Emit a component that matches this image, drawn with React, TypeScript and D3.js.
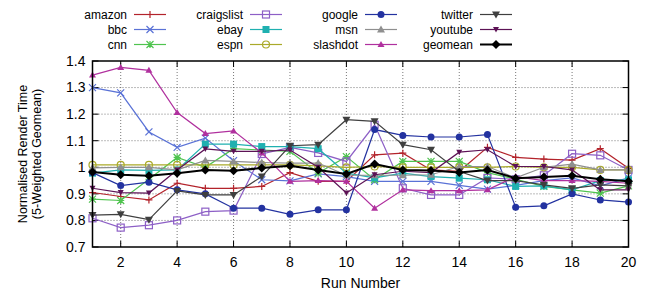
import React from 'react';
import * as d3 from 'd3';

const runs: number[] = d3.range(1, 21);

const amazon = [0.905, 0.89, 0.877, 0.94, 0.921, 0.921, 0.928, 0.98, 0.947, 0.947, 1.047, 1.053, 0.99, 0.985, 1.075, 1.037, 1.031, 1.027, 1.07, 0.996];
const bbc = [1.3, 1.28, 1.133, 1.075, 1.11, 1.025, 0.953, 0.949, 0.975, 0.965, 0.947, 0.947, 0.947, 0.932, 0.918, 0.932, 0.95, 0.96, 0.93, 0.96];
const cnn = [0.88, 0.875, 0.955, 1.037, 1.0, 1.07, 1.065, 1.06, 0.978, 1.04, 0.953, 1.022, 1.022, 1.022, 0.98, 0.955, 0.928, 0.915, 0.903, 0.93];
const craigslist = [0.808, 0.773, 0.782, 0.8, 0.833, 0.837, 1.05, 1.075, 1.054, 1.022, 1.16, 0.921, 0.896, 0.896, 0.96, 0.955, 0.97, 1.051, 1.045, 0.99];
const ebay = [0.978, 0.99, 0.988, 0.99, 1.087, 1.087, 1.078, 1.078, 1.07, 0.978, 0.96, 0.978, 0.965, 0.959, 0.953, 0.928, 0.93, 0.915, 0.95, 0.953];
const espn = [1.009, 1.009, 1.009, 1.009, 1.009, 1.009, 1.009, 1.009, 1.005, 1.0, 1.003, 1.0, 1.0, 1.0, 1.0, 1.003, 1.0, 1.0, 0.99, 0.99];
const google = [0.98, 0.931, 0.944, 0.915, 0.9, 0.846, 0.846, 0.823, 0.84, 0.84, 1.142, 1.12, 1.114, 1.114, 1.123, 0.85, 0.855, 0.9, 0.877, 0.869];
const msn = [0.998, 1.0, 1.0, 0.99, 1.026, 1.022, 1.018, 1.016, 1.016, 0.97, 0.97, 0.97, 0.972, 1.003, 1.003, 0.96, 1.0, 1.012, 0.99, 0.99];
const slashdot = [1.347, 1.376, 1.365, 1.206, 1.127, 1.137, 1.054, 0.947, 0.95, 0.947, 0.846, 0.915, 0.912, 0.912, 0.915, 0.965, 0.95, 0.95, 0.947, 0.94];
const twitter = [0.82, 0.823, 0.803, 0.911, 0.896, 0.896, 0.965, 1.081, 1.085, 1.179, 1.173, 1.085, 1.066, 0.984, 0.95, 0.95, 0.934, 0.921, 0.934, 0.93];
const youtube = [0.921, 0.905, 0.903, 0.99, 1.069, 1.06, 1.06, 1.065, 1.0, 0.903, 0.972, 0.985, 0.98, 1.057, 1.066, 1.003, 1.003, 0.99, 0.915, 0.915];
const geomean = [0.982, 0.972, 0.968, 0.978, 0.99, 0.987, 0.997, 1.006, 0.99, 0.975, 1.012, 0.99, 0.988, 0.98, 0.99, 0.959, 0.963, 0.968, 0.955, 0.947];

const yTicks = [0.7, 0.8, 0.9, 1.0, 1.1, 1.2, 1.3, 1.4];
const xTicks = [2, 4, 6, 8, 10, 12, 14, 16, 18, 20];

type Shape = 'plus' | 'cross' | 'star' | 'square' | 'fsquare' | 'circle' | 'fcircle' | 'tri' | 'ftri' | 'tridown' | 'smalltridown' | 'diamond';

interface Series {
  name: string;
  values: number[];
  color: string;
  shape: Shape;
  width?: number;
}

const series: Series[] = [
  { name: 'amazon', values: amazon, color: '#b3232b', shape: 'plus' },
  { name: 'bbc', values: bbc, color: '#5a72d6', shape: 'cross' },
  { name: 'cnn', values: cnn, color: '#4fc44f', shape: 'star' },
  { name: 'craigslist', values: craigslist, color: '#8d5fc6', shape: 'square' },
  { name: 'ebay', values: ebay, color: '#1fb0b0', shape: 'fsquare' },
  { name: 'espn', values: espn, color: '#aaaa2a', shape: 'circle' },
  { name: 'google', values: google, color: '#2332a0', shape: 'fcircle' },
  { name: 'msn', values: msn, color: '#8f8f8f', shape: 'tri' },
  { name: 'slashdot', values: slashdot, color: '#b0309e', shape: 'ftri' },
  { name: 'twitter', values: twitter, color: '#3f3f3f', shape: 'tridown' },
  { name: 'youtube', values: youtube, color: '#5c1255', shape: 'smalltridown' },
  { name: 'geomean', values: geomean, color: '#000000', shape: 'diamond', width: 2 },
];

const W = 653;
const H = 292;
const margin = { left: 92.5, right: 24.5, top: 61, bottom: 45 };

const Marker: React.FC<{ x: number; y: number; shape: Shape; color: string }> = ({ x, y, shape, color }) => {
  const s = 3.5;
  switch (shape) {
    case 'plus':
      return <path d={`M${x - s},${y}H${x + s}M${x},${y - s}V${y + s}`} stroke={color} strokeWidth={1.2} />;
    case 'cross':
      return <path d={`M${x - s},${y - s}L${x + s},${y + s}M${x - s},${y + s}L${x + s},${y - s}`} stroke={color} strokeWidth={1.2} />;
    case 'star':
      return (
        <path
          d={`M${x - s},${y}H${x + s}M${x},${y - s}V${y + s}M${x - s},${y - s}L${x + s},${y + s}M${x - s},${y + s}L${x + s},${y - s}`}
          stroke={color}
          strokeWidth={1.2}
        />
      );
    case 'square':
      return <rect x={x - s} y={y - s} width={2 * s} height={2 * s} fill="none" stroke={color} strokeWidth={1.2} />;
    case 'fsquare':
      return <rect x={x - s} y={y - s} width={2 * s} height={2 * s} fill={color} />;
    case 'circle':
      return <circle cx={x} cy={y} r={s} fill="none" stroke={color} strokeWidth={1.2} />;
    case 'fcircle':
      return <circle cx={x} cy={y} r={s} fill={color} />;
    case 'tri':
      return <path d={`M${x},${y - 4}L${x + 4},${y + 3}L${x - 4},${y + 3}Z`} fill={color} />;
    case 'ftri':
      return <path d={`M${x},${y - 3.5}L${x + 3.5},${y + 2.5}L${x - 3.5},${y + 2.5}Z`} fill={color} />;
    case 'tridown':
      return <path d={`M${x},${y + 4}L${x + 4},${y - 3}L${x - 4},${y - 3}Z`} fill={color} />;
    case 'smalltridown':
      return <path d={`M${x},${y + 3}L${x + 3},${y - 2.5}L${x - 3},${y - 2.5}Z`} fill={color} />;
    case 'diamond':
      return <path d={`M${x},${y - 4.5}L${x + 4.5},${y}L${x},${y + 4.5}L${x - 4.5},${y}Z`} fill={color} />;
  }
  return null;
};

const App: React.FC = () => {
  const x = d3.scaleLinear().domain([1, 20]).range([margin.left, W - margin.right]);
  const y = d3.scaleLinear().domain([0.7, 1.4]).range([H - margin.bottom, margin.top]);
  const line = d3
    .line<number>()
    .x((_, i) => x(runs[i]))
    .y((d) => y(d));

  const font = "'Liberation Sans', Arial, Helvetica, sans-serif";
  const x0 = x.range()[0];
  const x1 = x.range()[1];
  const y0 = y.range()[0];
  const y1 = y.range()[1];

  // legend: 4 columns x 3 rows, text right aligned, then sample line
  const legendTextEnds = [127, 243, 358, 473];
  const legendRows = [14.5, 29.5, 44.5];

  return (
    <svg width={W} height={H} style={{ position: 'absolute', left: 0, top: 0, background: '#fff' }} fontFamily={font}>
      {/* grid */}
      <g stroke="#555" strokeWidth={0.8} strokeDasharray="1,2">
        {yTicks
          .filter((t) => t > 0.71 && t < 1.39)
          .map((t) => (
            <line key={'gy' + t} x1={x0} x2={x1} y1={y(t)} y2={y(t)} />
          ))}
        {xTicks
          .filter((t) => t < 20)
          .map((t) => (
            <line key={'gx' + t} x1={x(t)} x2={x(t)} y1={y0} y2={y1} />
          ))}
      </g>

      {/* tick marks */}
      <g stroke="#000" strokeWidth={1}>
        {yTicks.map((t) => (
          <g key={'ty' + t}>
            <line x1={x0} x2={x0 + 6} y1={y(t)} y2={y(t)} />
            <line x1={x1} x2={x1 - 6} y1={y(t)} y2={y(t)} />
          </g>
        ))}
        {xTicks.map((t) => (
          <g key={'tx' + t}>
            <line x1={x(t)} x2={x(t)} y1={y0} y2={y0 - 6} />
            <line x1={x(t)} x2={x(t)} y1={y1} y2={y1 + 6} />
          </g>
        ))}
      </g>

      {/* series */}
      {series.map((s) => (
        <g key={s.name}>
          <path d={line(s.values) || ''} fill="none" stroke={s.color} strokeWidth={s.width || 1.2} />
          {s.values.map((v, i) => (
            <Marker key={i} x={x(runs[i])} y={y(v)} shape={s.shape} color={s.color} />
          ))}
        </g>
      ))}

      {/* frame */}
      <rect x={x0} y={y1} width={x1 - x0} height={y0 - y1} fill="none" stroke="#000" strokeWidth={1.5} />

      {/* tick labels */}
      <g fontSize={14} fill="#000">
        {yTicks.map((t) => (
          <text key={'ly' + t} x={x0 - 7} y={y(t)} dy="0.35em" textAnchor="end">
            {t === 1 ? '1' : d3.format('.1f')(t)}
          </text>
        ))}
        {xTicks.map((t) => (
          <text key={'lx' + t} x={x(t)} y={y0 + 20} textAnchor="middle">
            {t}
          </text>
        ))}
        <text x={(x0 + x1) / 2} y={288} textAnchor="middle">
          Run Number
        </text>
      </g>

      {/* y label */}
      <g fontSize={12.5} fill="#000" transform={`translate(27,${(y0 + y1) / 2}) rotate(-90)`}>
        <text x={0} y={0} textAnchor="middle">
          Normalised Render Time
        </text>
        <text x={0} y={14} textAnchor="middle">
          (5-Weighted Geomean)
        </text>
      </g>

      {/* legend */}
      <g fontSize={12}>
        {series.map((s, i) => {
          const col = Math.floor(i / 3);
          const row = i % 3;
          const tx = legendTextEnds[col];
          const ly = legendRows[row];
          return (
            <g key={'lg' + s.name}>
              <text x={tx} y={ly} dy="0.35em" textAnchor="end" fill="#000">
                {s.name}
              </text>
              <line x1={tx + 7} x2={tx + 39} y1={ly} y2={ly} stroke={s.color} strokeWidth={s.width || 1.2} />
              <Marker x={tx + 23} y={ly} shape={s.shape} color={s.color} />
            </g>
          );
        })}
      </g>
    </svg>
  );
};

export default App;
